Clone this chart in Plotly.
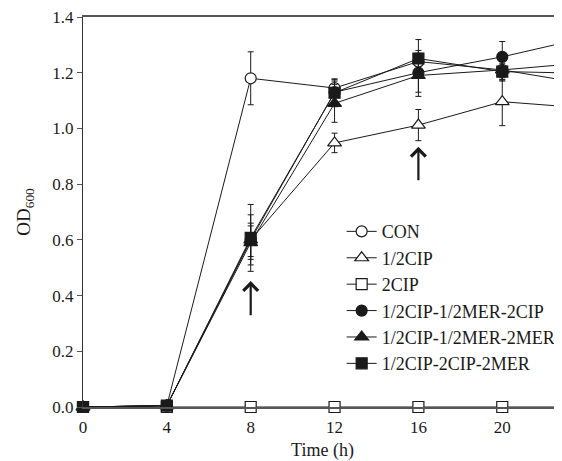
import plotly.graph_objects as go

time = [0, 4, 8, 12, 16, 20, 24]

series_names = ["CON", "1/2CIP", "2CIP", "1/2CIP-1/2MER-2CIP", "1/2CIP-1/2MER-2MER", "1/2CIP-2CIP-2MER"]

con = [0.0, 0.005, 1.18, 1.145, 1.24, 1.21, 1.16]
con_err = [0, 0, 0.095, 0.03, 0.04, 0.035, 0.03]

half_cip = [0.0, 0.005, 0.60, 0.948, 1.012, 1.096, 1.073]
half_cip_err = [0, 0, 0.06, 0.035, 0.056, 0.086, 0.03]

two_cip = [0.0, 0.0, 0.0, 0.0, 0.0, 0.0, 0.0]
two_cip_err = [0, 0, 0, 0, 0, 0, 0]

mer_2cip = [0.0, 0.005, 0.60, 1.13, 1.20, 1.257, 1.326]
mer_2cip_err = [0, 0, 0.09, 0.04, 0.07, 0.055, 0.03]

mer_2mer = [0.0, 0.005, 0.59, 1.09, 1.19, 1.21, 1.236]
mer_2mer_err = [0, 0, 0.06, 0.068, 0.075, 0.04, 0.03]

cip_2mer = [0.0, 0.005, 0.607, 1.128, 1.251, 1.204, 1.198]
cip_2mer_err = [0, 0, 0.12, 0.05, 0.068, 0.03, 0.03]

values = [con, half_cip, two_cip, mer_2cip, mer_2mer, cip_2mer]
errors = [con_err, half_cip_err, two_cip_err, mer_2cip_err, mer_2mer_err, cip_2mer_err]
symbols = ["circle-open", "triangle-up-open", "square-open", "circle", "triangle-up", "square"]

# arrows (x, tail y, head y)
arrow_x = [8, 16]
arrow_tail = [0.324, 0.809]
arrow_head = [0.452, 0.934]

ink = "#1a1a1a"
fig = go.Figure()
for name, y, e, sym in zip(series_names, values, errors, symbols):
    is_open = sym.endswith("open")
    fig.add_trace(go.Scatter(
        x=time, y=y, name=name, mode="lines+markers",
        line=dict(color=ink, width=1),
        marker=dict(symbol=sym.replace("-open", ""), size=11 if "triangle" not in sym else 12,
                    color="white" if is_open else ink,
                    line=dict(color=ink, width=1.2)),
        error_y=dict(type="data", array=e, color=ink, thickness=1, width=3),
        cliponaxis=False,
    ))

for ax_, t, h in zip(arrow_x, arrow_tail, arrow_head):
    fig.add_annotation(x=ax_, y=h, ax=ax_, ay=t, xref="x", yref="y", axref="x", ayref="y",
                       text="", showarrow=True, arrowhead=4, arrowsize=1.3, arrowwidth=2.2,
                       arrowcolor=ink, standoff=0, startstandoff=0)

font = "Liberation Serif"
fig.update_layout(
    width=554, height=453,
    margin=dict(l=75, r=0, t=9, b=54, autoexpand=False),
    paper_bgcolor="white", plot_bgcolor="white",
    font=dict(family=font, size=17, color=ink),
    showlegend=True,
    legend=dict(x=0.54, y=0.497, xanchor="left", yanchor="top",
                bgcolor="rgba(0,0,0,0)", itemwidth=30, tracegroupgap=0,
                font=dict(family=font, size=18, color=ink)),
    xaxis=dict(range=[0, 22.85], tickvals=[0, 4, 8, 12, 16, 20], ticks="",
               showline=True, linecolor="#555", linewidth=1.5, mirror=True,
               showgrid=False, zeroline=False, automargin=False,
               ticklabelstandoff=4, ticklabeloverflow="allow",
               title=dict(text="Time (h)", standoff=10, font=dict(size=18)),
               tickfont=dict(size=17)),
    yaxis=dict(range=[0, 1.4], dtick=0.2, tickformat=".1f", ticks="outside", ticklen=5,
               tickcolor="#555", showline=True, linecolor="#333", linewidth=1,
               showgrid=False, zeroline=False, automargin=False,
               ticklabeloverflow="allow",
               title=dict(text="OD<sub>600</sub>", standoff=16, font=dict(size=19)),
               tickfont=dict(size=17)),
)

fig.write_html("out.html")
